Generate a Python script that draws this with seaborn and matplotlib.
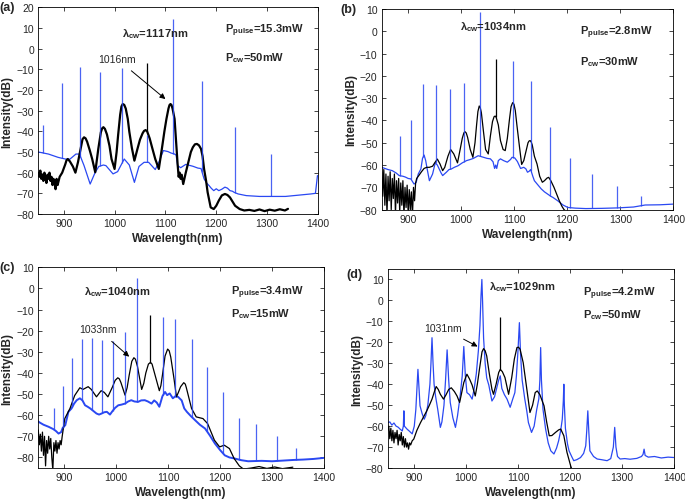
"""
Four-panel spectra: pulse + cw pumped output, blue/black traces.
"""

import matplotlib
matplotlib.use("Agg")
import matplotlib.pyplot as plt
import seaborn as sns
import numpy as np

sns.set_style("ticks")
plt.rcParams['font.family'] = ['Liberation Sans', 'DejaVu Sans']
plt.rcParams['mathtext.fontset'] = 'custom'
plt.rcParams['mathtext.rm'] = 'Liberation Sans'
plt.rcParams['mathtext.bf'] = 'Liberation Sans:bold'
plt.rcParams['mathtext.it'] = 'Liberation Sans:italic'

BLUE = '#2a48f2'
BLACK = '#000000'

# ---------------- panel (a) ----------------
a_blue_x = [850, 870, 889, 903, 912, 924, 931, 940, 952, 962, 969, 978, 983, 997, 1006,
            1019, 1029, 1039, 1048, 1058, 1067, 1080, 1087, 1096, 1105, 1111, 1118, 1121,
            1124, 1130, 1140, 1154, 1164, 1170, 1176, 1181, 1186, 1190, 1195, 1200, 1205,
            1211, 1217, 1222, 1227, 1232, 1235, 1243, 1259, 1285, 1336, 1386, 1395, 1399]
a_blue_y = [-50, -51, -52.6, -53.4, -53.5, -51, -51, -56.6, -65.5, -59.8, -57, -56.3, -56.6,
            -60.6, -59.5, -53.4, -56.3, -64.7, -57, -55, -55, -58.5, -55, -49.3, -49.8,
            -50.5, -51, -51.5, -56.6, -57.6, -56, -56.9, -57.8, -58, -63, -65, -66.3, -67.5,
            -68.7, -67.8, -68.7, -68, -67, -67.5, -68.7, -69, -69.5, -70.3, -71.1, -71.5,
            -71.5, -70.3, -70, -61.4]
a_black_x = [850, 852, 854, 856, 858, 860, 862, 864, 866, 868, 870, 872, 874, 876, 878, 880,
             882, 884, 886, 888, 890, 892, 897, 903, 905.5, 908, 912, 918, 923, 928, 934, 937,
             940, 943, 946, 951, 956, 962, 968, 973, 975.5, 978, 981, 985, 990, 994, 1000,
             1004, 1007, 1011, 1013.5, 1016, 1019, 1022, 1026, 1029, 1034, 1039, 1045, 1050,
             1055, 1058, 1061, 1064, 1069, 1074, 1080, 1087, 1093, 1098, 1102, 1106, 1108,
             1110, 1112, 1114, 1118, 1121, 1124, 1126, 1128, 1130, 1132, 1135, 1140, 1145,
             1150, 1154, 1158, 1162, 1166, 1170, 1173, 1176, 1180, 1183, 1189, 1195, 1200,
             1205, 1211, 1217, 1222, 1227, 1232, 1237, 1246, 1255, 1265, 1275, 1285, 1295,
             1305, 1315, 1325, 1335, 1341]
a_black_y = [-60, -62, -59, -63, -61, -64, -60, -62, -65, -61, -63, -60, -64, -62, -66, -63,
             -65, -68, -63, -66, -64, -62, -60, -56, -54, -53.4, -54.5, -57, -60, -55, -47.5,
             -43.8, -42.9, -43.4, -45, -49, -53.4, -59.8, -48.5, -40.5, -38.6, -38, -38.8,
             -41.5, -47, -53.4, -58.2, -50, -41.8, -32, -28, -26.8, -27.2, -29, -34, -40.2,
             -48, -54.2, -48.5, -44, -41, -39.8, -39.4, -40, -43.4, -48, -53.4, -58.2, -48.5,
             -40, -34, -29, -27.3, -26.8, -27.3, -29, -34, -45, -56, -62, -60, -63, -61,
             -65.5, -60, -55, -50, -47.7, -46.3, -46.1, -46.8, -48.5, -52, -58.2, -64, -69.5,
             -76.8, -77.6, -76, -73.5, -71, -70.3, -70.8, -72, -74, -76, -77.6, -78.3, -78,
             -78.5, -77.8, -78.6, -77.9, -78.4, -77.7, -78.3, -77.5]
a_bspike_x = [860, 896, 933, 971, 1015, 1064, 1115, 1172, 1237, 1308]
a_bspike_y = [-37, -16.6, -9, -11.5, -9.5, -42, 14.4, -15.5, -38, -51]
a_kspike_x = [1063]
a_kspike_y = [-7]

# ---------------- panel (b) ----------------
b_blue_x = [850, 862, 870, 877, 883, 890, 895, 900, 905, 911, 915, 919, 924, 927, 930, 933,
            936, 940, 946, 951, 955, 958, 962, 965, 972, 977, 981, 987, 994, 1002, 1010, 1017,
            1023, 1032, 1042, 1049, 1055, 1060, 1063, 1065, 1067, 1070, 1074, 1080, 1087,
            1093, 1096, 1101, 1106, 1112, 1118, 1122, 1125, 1128, 1131, 1135, 1138, 1145,
            1151, 1157, 1163, 1169, 1173, 1182, 1192, 1201, 1215, 1235, 1265, 1295, 1325,
            1347, 1375, 1400]
b_blue_y = [-61, -62, -62.5, -63.5, -64.7, -65, -65.4, -66, -66.2, -68.5, -67.8, -64, -61.7,
            -57, -55.5, -58, -62, -67, -64, -59, -60, -61.5, -63.5, -64.7, -63.2, -62, -61.8,
            -61, -60.3, -59, -58, -57.5, -57, -55.8, -56.5, -57, -57.2, -58.5, -61.5, -60,
            -61.5, -58, -57.2, -58, -58.7, -57.5, -56.5, -56.8, -58.4, -61.5, -61, -61.7,
            -63.2, -62.8, -62, -65, -67, -69, -70.7, -72, -73, -74, -74.5, -76, -77.9, -79,
            -79.3, -79.5, -79.4, -79.2, -78.8, -77.9, -77.8, -77.5]
b_black_x = [850, 852, 854, 856, 858, 860, 862, 864, 866, 868, 870, 872, 874, 876, 878, 880,
             882, 884, 886, 888, 890, 892, 894, 896, 898, 900, 902, 904, 906, 908, 910, 912,
             914, 916, 920, 925, 930, 935, 940, 946, 950, 955, 960, 965, 969, 975, 980, 986,
             993, 998, 1002, 1005, 1007, 1009.5, 1012, 1017, 1022, 1026, 1029, 1031.5, 1034,
             1036, 1038, 1042, 1046, 1051, 1055, 1059, 1062, 1064, 1066, 1070, 1074, 1079,
             1083, 1087, 1091, 1094, 1097, 1099.5, 1102, 1105, 1110, 1114, 1118, 1122, 1126,
             1128, 1130, 1132, 1134, 1138, 1143, 1148, 1153, 1157, 1162, 1165, 1169, 1175,
             1180, 1185, 1190, 1194, 1199]
b_black_y = [-63, -74, -62, -78, -64, -82, -65, -76, -63, -80, -66, -75, -64, -82, -67, -77,
             -66, -81, -68, -78, -67, -83, -70, -79, -69, -82, -71, -80, -72, -83, -70, -76,
             -68, -66, -64.7, -63, -61.5, -61, -61, -60.5, -59, -57.3, -59.5, -62.5, -61, -56,
             -53, -55, -59, -53, -48, -45.6, -45, -45.6, -47.5, -53, -56.5, -50, -42, -36,
             -33.5, -34.3, -36.5, -45, -53, -55, -47, -40.5, -38.3, -38, -38.6, -42, -49, -53,
             -53.5, -48, -39.5, -33.8, -32, -32.7, -35.5, -42, -52, -59.7, -58, -54, -50,
             -49.2, -49, -49.6, -51, -56, -59.5, -65, -67.7, -67, -65.8, -65.5, -67, -70,
             -73, -76, -78.5, -80, -81]
b_bspike_x = [885, 905, 928, 952, 978, 1006, 1035, 1098, 1132, 1167, 1205, 1246, 1293, 1340]
b_bspike_y = [-47, -40, -23.6, -24, -26, -23, 8.5, -13.2, -22.5, -43, -57, -64, -69.5, -74]
b_kspike_x = [1065]
b_kspike_y = [-12.4]

# ---------------- panel (c) ----------------
c_blue_x = [850, 853, 860, 870, 879, 884, 889, 894, 897, 902, 908, 914, 919, 924, 930, 935,
            940, 945, 950, 956, 962, 967, 972, 977, 982, 988, 993, 998, 1004, 1010, 1017,
            1023, 1029, 1035, 1042, 1048, 1055, 1061, 1068, 1073, 1078, 1083, 1089, 1094,
            1098, 1103, 1109, 1114, 1119, 1126, 1131, 1136, 1144, 1152, 1161, 1171, 1180,
            1190, 1200, 1209, 1218, 1228, 1241, 1254, 1280, 1300, 1320, 1340, 1360, 1380, 1400]
c_blue_y = [-63, -63.5, -64.5, -65.5, -66.6, -67.5, -68.7, -68, -66, -64.7, -58.4, -56.8,
            -54.5, -52.9, -52, -53, -55.3, -56, -56.8, -58, -59.2, -59.7, -59.2, -58.6, -58.4,
            -59.7, -58, -56.5, -55.3, -55, -54.5, -53.5, -52.9, -53.5, -53.7, -53, -52.9,
            -53.5, -54.5, -53, -54, -56, -51, -49, -50.5, -49.7, -52, -51, -51.3, -53, -56.8,
            -58.4, -60.5, -62.4, -64.5, -66.3, -69.5, -73.4, -76.5, -79, -80, -80.5, -81.3,
            -81.8, -81.6, -81.8, -81.5, -81.2, -81, -80.7, -80.2]
c_black_x = [850, 852, 854, 856, 858, 860, 862, 864, 866, 868, 870, 872, 874, 876, 878, 880,
             882, 884, 886, 888, 890, 892, 894, 896, 901, 911, 920, 930, 936, 946, 952, 962,
             971, 977, 984, 993, 998, 1003, 1006, 1009, 1017, 1021, 1025, 1030, 1034, 1037,
             1041, 1049, 1053, 1057, 1062, 1066, 1069, 1073, 1083, 1086, 1089, 1094, 1099,
             1102, 1105, 1111, 1116, 1120, 1124, 1130, 1133, 1135, 1145, 1154, 1167, 1176,
             1189, 1199, 1208, 1218, 1227, 1237, 1245, 1260, 1275, 1290, 1305, 1320, 1340]
c_black_y = [-67, -74, -69, -77, -68, -79, -70, -84, -72, -78, -70, -76, -71, -80, -86, -73,
             -77, -72, -78, -73, -76, -72, -74, -70, -61.6, -56.8, -50.7, -47, -47.8, -46.5,
             -47.8, -51.3, -48.4, -49.2, -51.3, -46.5, -43.5, -42.3, -42.8, -44.5, -50.5, -47,
             -41, -34.5, -32.8, -33.5, -37, -47.8, -45, -40, -35.8, -35, -35.8, -39.4, -48.4,
             -46, -41, -32, -28.7, -29.5, -32.5, -42.3, -51.3, -49, -46.5, -44.6, -45.3, -47,
             -56.8, -60.8, -61.6, -64, -71.8, -75, -74.2, -75.8, -80.5, -84, -85.5, -85, -84.3,
             -85.2, -84.5, -85.3, -84.6]
c_bspike_x = [880, 897, 915, 934, 953, 973, 993, 1017, 1040, 1090, 1113, 1145, 1174, 1205,
              1237, 1270, 1310, 1347]
c_bspike_y = [-56.8, -46, -32.8, -24, -23.5, -24.4, -25, -20.5, 5, -13.4, -14.5, -24, -37,
              -49.2, -61.2, -64.4, -69.8, -75.3]
c_kspike_x = [1065]
c_kspike_y = [-12.6]

# ---------------- panel (d) ----------------
d_blue_x = [850, 854, 858, 862, 866, 870, 874, 878, 880, 881, 882, 887, 892, 897, 901, 904,
            906, 908, 910, 912, 916, 920, 923, 927, 931, 933, 935, 937, 939, 942, 946, 951,
            954, 958, 961, 964, 967, 970, 975, 980, 984, 989, 993, 996, 999, 1002, 1007, 1012,
            1016, 1020, 1024, 1027, 1029, 1030.7, 1032, 1034, 1037, 1040, 1044, 1050, 1055,
            1059, 1063, 1066, 1069, 1074, 1079, 1085, 1090, 1094, 1097, 1100, 1102.7, 1105,
            1108, 1113, 1117, 1120, 1126, 1131, 1136, 1140, 1142, 1143.5, 1145, 1148, 1153,
            1158, 1163, 1169, 1174, 1178, 1182, 1185, 1187, 1188, 1189, 1191, 1195, 1198,
            1203, 1207, 1213, 1220, 1226, 1230, 1232, 1234, 1236, 1238, 1245, 1252, 1260,
            1271, 1278, 1283, 1285.6, 1288, 1291, 1296, 1305, 1315, 1328, 1337, 1340, 1342,
            1344, 1350, 1362, 1375, 1388, 1400]
d_blue_y = [-58.3, -58, -59.5, -58.5, -60, -60.5, -61.5, -62.3, -60, -52.7, -60, -61.4,
            -62.5, -63.7, -60, -52, -42, -32.9, -42, -50.3, -54, -56.7, -55, -50, -40, -30,
            -17.8, -30, -40, -46, -52, -60.6, -58, -50, -38, -23.6, -38, -48.7, -56, -60.6,
            -55, -45.6, -36, -22, -36, -44, -45, -47.1, -42, -35, -24, -12, 2, 10, 0, -18,
            -30, -37, -40.4, -48, -46, -42, -38, -36, -42, -45, -47.1, -51, -47, -44, -36,
            -24, -10.6, -26, -38, -47, -53, -58.3, -63, -60, -52, -47, -38, -22.5, -38, -52,
            -61.4, -68, -71.8, -73.3, -70.5, -67, -62, -56.7, -48, -40, -50, -61, -68.5,
            -71.8, -74.5, -76.5, -76, -75, -73, -69.4, -62, -52.7, -63, -71.8, -74.5, -75.7,
            -76, -76.5, -75.5, -70, -60.6, -70, -74.5, -75.7, -75.5, -75.8, -75.4, -74.5,
            -73.5, -71, -74, -74.8, -74.5, -75.2, -74.8, -75]
d_black_x = [850, 852, 854, 856, 858, 860, 862, 864, 866, 868, 870, 872, 874, 876, 878, 880,
             882, 884, 886, 888, 890, 892, 894, 897, 900, 906, 913, 919, 925, 930, 935, 939,
             943, 947, 951, 957, 962, 967, 972, 978, 983, 988, 992, 996, 1002, 1007, 1012,
             1018, 1022, 1026, 1031, 1034, 1037, 1040, 1045, 1050, 1053, 1058, 1063, 1066,
             1070, 1075, 1082, 1088, 1093, 1098, 1101, 1104, 1110, 1117, 1123, 1128, 1133,
             1137, 1142, 1150, 1155, 1160, 1165, 1172, 1178, 1182, 1188, 1194, 1201, 1204]
d_black_y = [-62, -60, -66, -61, -67, -62, -68, -63, -66, -62, -69, -64, -67, -63, -69, -65,
             -70, -66, -70, -68, -71, -68, -69, -67, -66.2, -62, -58.3, -55.5, -52.7, -50,
             -47.1, -44, -41.1, -42.5, -44.8, -47.1, -45, -42.5, -41.7, -43.5, -45.6, -48.7,
             -44, -39.2, -35.2, -37.5, -40.4, -45.6, -40, -32.9, -24.5, -23, -24, -26.5, -35,
             -42.4, -44.8, -40, -34.4, -32.9, -34, -36.8, -44.8, -36.8, -28, -22.5, -22.3,
             -23.3, -29.7, -42.4, -53.5, -50, -44, -43.2, -45, -50.3, -58, -64.6, -64.5, -63,
             -61.8, -61.4, -64.6, -72.5, -78.9, -81]
d_kspike_x = [1065.5]
d_kspike_y = [-8]

x_ticks = [900, 1000, 1100, 1200, 1300, 1400]


def draw_panel(ax, bx, by, kx, ky, bsx, bsy, ksx, ksy, ylim, yticks,
               blue_lw=0.9, black_lw=0.9):
    sns.lineplot(x=bx, y=by, ax=ax, color=BLUE, linewidth=blue_lw,
                 sort=False, estimator=None)
    sns.lineplot(x=kx, y=ky, ax=ax, color=BLACK, linewidth=black_lw,
                 sort=False, estimator=None)
    if bsx:
        base = np.interp(bsx, bx, by)
        ax.vlines(bsx, base, bsy, color=BLUE, linewidth=0.9, alpha=0.85)
    if ksx:
        base = np.interp(ksx, kx, ky)
        ax.vlines(ksx, base, ksy, color=BLACK, linewidth=0.9)

    ax.set_xlim(850, 1400)
    ax.set_ylim(*ylim)
    ax.set_xticks(x_ticks)
    ax.set_yticks(yticks)
    ax.tick_params(direction='in', top=True, right=True, length=3, width=0.6,
                   labelsize=7.5, pad=3)
    for s in ax.spines.values():
        s.set_linewidth(0.6)
        s.set_color('black')
    ax.set_xlabel('Wavelength(nm)', fontsize=8.5, fontweight='bold', labelpad=3)
    ax.set_ylabel('Intensity(dB)', fontsize=8.5, fontweight='bold', labelpad=2)


def label(ax, x, y, s, size=8, bold=True):
    ax.text(x, y, s, fontsize=size, fontweight='bold' if bold else 'normal',
            ha='left', va='center')


fig = plt.figure(figsize=(6.85, 5.02), dpi=100)
ax_a = fig.add_axes([0.0559, 0.5717, 0.4083, 0.4118])
ax_b = fig.add_axes([0.5572, 0.5803, 0.4257, 0.3998])
ax_c = fig.add_axes([0.0559, 0.0657, 0.4171, 0.3998])
ax_d = fig.add_axes([0.5660, 0.0657, 0.4184, 0.3964])

# (a)
draw_panel(ax_a, a_blue_x, a_blue_y, a_black_x, a_black_y, a_bspike_x, a_bspike_y,
           a_kspike_x, a_kspike_y, (-80, 20), range(-80, 21, 10), black_lw=1.6)
label(ax_a, 1015, 7.6, r'$\mathbf{\lambda_{cw}}$=1117nm')
label(ax_a, 1217, 9, r'$\mathbf{P_{pulse}}$=15.3mW')
label(ax_a, 1217, -4, r'$\mathbf{P_{cw}}$=50mW')
ax_a.annotate('1016nm', xy=(1100, -24.4), xytext=(1005, -5), fontsize=7.5,
              ha='center', va='center',
              arrowprops=dict(arrowstyle='-|>', color='black', lw=0.7,
                              shrinkA=4, shrinkB=0, mutation_scale=8))

# (b)
draw_panel(ax_b, b_blue_x, b_blue_y, b_black_x, b_black_y, b_bspike_x, b_bspike_y,
           b_kspike_x, b_kspike_y, (-80, 10), range(-80, 11, 10))
label(ax_b, 997, 2.4, r'$\mathbf{\lambda_{cw}}$=1034nm')
label(ax_b, 1224, -0.3, r'$\mathbf{P_{pulse}}$=2.8mW')
label(ax_b, 1224, -13.3, r'$\mathbf{P_{cw}}$=30mW')

# (c)
draw_panel(ax_c, c_blue_x, c_blue_y, c_black_x, c_black_y, c_bspike_x, c_bspike_y,
           c_kspike_x, c_kspike_y, (-85, 10), range(-80, 11, 10), blue_lw=1.4)
label(ax_c, 938, -1.4, r'$\mathbf{\lambda_{cw}}$=1040nm')
label(ax_c, 1221, -1.4, r'$\mathbf{P_{pulse}}$=3.4mW')
label(ax_c, 1221, -11.8, r'$\mathbf{P_{cw}}$=15mW')
ax_c.annotate('1033nm', xy=(1025, -32.3), xytext=(965, -19.4), fontsize=7.5,
              ha='center', va='center',
              arrowprops=dict(arrowstyle='-|>', color='black', lw=0.7,
                              shrinkA=4, shrinkB=0, mutation_scale=8))

# (d)
draw_panel(ax_d, d_blue_x, d_blue_y, d_black_x, d_black_y, [], [],
           d_kspike_x, d_kspike_y, (-80, 15), range(-80, 11, 10))
label(ax_d, 1044, 6.7, r'$\mathbf{\lambda_{cw}}$=1029nm')
label(ax_d, 1224, 3.8, r'$\mathbf{P_{pulse}}$=4.2mW')
label(ax_d, 1224, -6.7, r'$\mathbf{P_{cw}}$=50mW')
ax_d.annotate('1031nm', xy=(1022.5, -22), xytext=(956, -13.3), fontsize=7.5,
              ha='center', va='center',
              arrowprops=dict(arrowstyle='-|>', color='black', lw=0.7,
                              shrinkA=4, shrinkB=0, mutation_scale=8))

for s, (px, py) in zip(['(a)', '(b)', '(c)', '(d)'],
                       [(7, 8), (348, 10), (7, 268), (354, 275)]):
    fig.text(px / 685, 1 - py / 502, s, fontsize=9, fontweight='bold',
             ha='center', va='center')

fig.savefig('out.png', dpi=100)
